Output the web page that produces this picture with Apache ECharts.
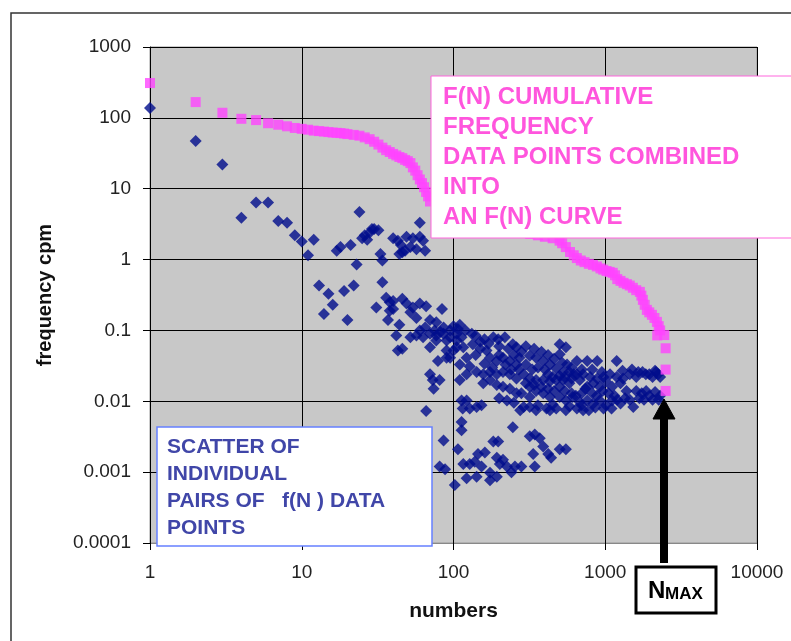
<!DOCTYPE html>
<html>
<head>
<meta charset="utf-8">
<script src="https://cdn.jsdelivr.net/npm/echarts@6/dist/echarts.min.js"></script>
<style>
  html, body { margin: 0; padding: 0; background: #fff; }
  #chart { width: 791px; height: 641px; }
</style>
</head>
<body>
<div id="chart"></div>
<script>
// tick labels
const xTicks = ['1', '10', '100', '1000', '10000']
const yTicks = ['0.0001', '0.001', '0.01', '0.1', '1', '10', '100', '1000']

// f(N) individual pairs [numbers, frequency cpm]
const scatterPts = [
  [1, 138], [2, 47], [3, 22], [4, 3.9], [5, 6.4], [6, 6.4], [7, 3.5], [8, 3.3], [9, 2.2], [10, 1.8],
  [11, 1.15], [12, 1.9], [13, 0.43], [15, 0.33], [16, 0.23], [14, 0.17], [17, 1.33], [18, 1.5], [19, 0.36], [20, 0.14],
  [21, 1.6], [22, 0.43], [23, 0.85], [24, 4.7], [25, 2.0], [26, 2.2], [27, 1.9], [28, 2.4], [29, 2.7], [32, 2.6],
  [33, 1.2], [34, 0.97], [34, 0.48], [31, 0.21], [36, 0.29], [38, 0.25], [40, 2.0], [43, 1.85], [44, 1.2], [40, 0.2],
  [37, 0.14], [42, 0.085], [43, 0.052], [60, 3.3], [30, 2.7], [49, 2.1], [54, 2.0], [60, 2.1], [63, 1.85], [46, 1.27],
  [52, 1.5], [57, 1.4], [65, 1.33], [45, 1.6], [48, 1.33],
  [40, 0.26], [46, 0.28], [49, 0.24], [54, 0.21], [60, 0.24], [66, 0.22], [84, 0.2], [38, 0.19], [52, 0.18], [57, 0.15],
  [70, 0.14], [77, 0.13], [86, 0.11], [100, 0.115], [107, 0.105], [44, 0.12], [52, 0.08], [57, 0.085], [63, 0.08], [70, 0.09],
  [77, 0.085], [86, 0.09], [95, 0.08], [105, 0.09], [113, 0.08], [132, 0.09], [46, 0.055], [70, 0.058], [90, 0.052], [105, 0.058],
  [79, 0.037], [90, 0.041], [70, 0.024], [73, 0.02], [81, 0.02], [74, 0.015], [66, 0.0073],
  [75, 0.1], [82, 0.095], [95, 0.1], [65, 0.11], [60, 0.1], [120, 0.1], [140, 0.085], [160, 0.075],
  [113, 0.0103], [115, 0.0079], [128, 0.0079], [142, 0.0083], [153, 0.0088], [113, 0.0051], [113, 0.0039], [246, 0.0043], [86, 0.0028], [107, 0.0021],
  [81, 0.0012], [88, 0.0011], [102, 0.00066], [116, 0.0013], [128, 0.0013], [138, 0.0014], [122, 0.00082], [142, 0.00086], [145, 0.0018], [161, 0.0019],
  [153, 0.0012], [174, 0.00098], [183, 0.0027], [197, 0.0027], [193, 0.0016], [202, 0.0013], [212, 0.0015], [174, 0.00077], [193, 0.00086], [225, 0.0012],
  [241, 0.001], [254, 0.0012], [280, 0.0012], [318, 0.0032], [343, 0.0034], [370, 0.003], [335, 0.0018], [390, 0.0023], [421, 0.0018], [343, 0.0012],
  [440, 0.0016], [501, 0.0021], [550, 0.0021],
  [110, 0.12], [183, 0.08], [197, 0.075], [218, 0.08], [246, 0.064], [260, 0.058], [501, 0.064], [550, 0.058], [501, 0.046], [1190, 0.037],
  [650, 0.037], [760, 0.037], [885, 0.037], [134, 0.064], [150, 0.055], [165, 0.052], [174, 0.041], [193, 0.037], [212, 0.041], [235, 0.037],
  [260, 0.033], [272, 0.041], [318, 0.044], [350, 0.041], [390, 0.037], [432, 0.033], [475, 0.029], [528, 0.026], [580, 0.026],
  [150, 0.07], [170, 0.065], [200, 0.06], [230, 0.055], [280, 0.05], [300, 0.06], [340, 0.055], [380, 0.05], [420, 0.045], [460, 0.04],
  [520, 0.035], [560, 0.033], [600, 0.03], [700, 0.028], [820, 0.028], [950, 0.026], [1300, 0.027], [1500, 0.028], [1650, 0.026], [1850, 0.024],
  [2050, 0.022], [2300, 0.022],
  [650, 0.024], [715, 0.024], [794, 0.022], [885, 0.021], [974, 0.022], [1075, 0.024], [1190, 0.022], [1310, 0.021], [1450, 0.024], [1600, 0.022],
  [1760, 0.026], [1950, 0.024], [2130, 0.027], [2230, 0.024], [2160, 0.026],
  [528, 0.02], [580, 0.018], [680, 0.02], [760, 0.016], [835, 0.018], [920, 0.016], [1010, 0.019], [1110, 0.016], [1260, 0.018], [1380, 0.014],
  [1600, 0.014], [1740, 0.013], [1950, 0.012], [2130, 0.0135], [2300, 0.012], [1860, 0.014],
  [140, 0.045], [160, 0.034], [180, 0.03], [200, 0.045], [220, 0.033], [240, 0.028], [250, 0.045], [270, 0.028], [300, 0.033], [330, 0.028],
  [360, 0.03], [400, 0.028], [420, 0.024], [450, 0.022], [500, 0.023], [540, 0.022], [600, 0.021], [620, 0.024], [300, 0.018], [340, 0.017],
  [380, 0.016], [420, 0.015], [460, 0.014], [500, 0.016], [540, 0.014], [600, 0.013], [640, 0.012], [700, 0.013], [740, 0.015], [820, 0.013],
  [880, 0.012], [960, 0.014], [1050, 0.013], [1150, 0.012], [1200, 0.0105], [1350, 0.011], [1450, 0.0105], [1680, 0.011], [1800, 0.0105], [2050, 0.0105],
  [2250, 0.0105], [700, 0.0088], [860, 0.0082], [250, 0.0095], [200, 0.011], [360, 0.0088], [450, 0.009], [580, 0.0085],
  [501, 0.0115], [550, 0.0103], [610, 0.0115], [680, 0.0098], [760, 0.0103], [835, 0.0093], [920, 0.0103], [1010, 0.0088], [1110, 0.0103], [1260, 0.0093],
  [1530, 0.0083], [780, 0.0075], [550, 0.0075], [410, 0.0079], [350, 0.0075], [318, 0.0083], [290, 0.0083], [275, 0.0075], [432, 0.0075], [475, 0.0079],
  [650, 0.0079], [715, 0.0075], [974, 0.0079], [1100, 0.0079],
  [122, 0.041], [128, 0.031], [142, 0.026], [157, 0.024], [174, 0.026], [193, 0.024], [212, 0.026], [235, 0.024], [260, 0.021], [290, 0.024],
  [318, 0.021], [350, 0.02], [390, 0.02], [432, 0.019], [475, 0.02], [157, 0.018], [174, 0.02], [193, 0.017], [212, 0.016], [235, 0.015],
  [260, 0.013], [225, 0.0103], [318, 0.016], [350, 0.014], [390, 0.013], [432, 0.0115], [318, 0.0115], [280, 0.013],
  [105, 0.072], [116, 0.058], [100, 0.052], [95, 0.041], [110, 0.033], [122, 0.024], [90, 0.072], [77, 0.072], [110, 0.02], [122, 0.0103]
]

// F(N) cumulative frequency [numbers, frequency cpm]
const cumulativePts = [
  [1, 310], [2, 167], [3, 118], [4, 97], [5, 93], [6, 84], [7, 80], [8, 76], [9, 72], [10, 70],
  [11, 68], [12, 66], [13, 65], [14, 64], [15, 63], [16, 62], [17, 61.5], [18, 61], [19, 60], [20, 59],
  [22, 57.5], [24, 56], [26, 53], [28, 50], [30, 46], [32, 42], [34, 38], [36, 35], [38, 33], [40, 31],
  [42, 29.5], [44, 28], [46, 27], [48, 25.5], [50, 24.5], [52, 23], [54, 20], [56, 18], [58, 15.5], [60, 13.5],
  [62, 12], [64, 10.5], [66, 9], [68, 7.8], [70, 6.6], [80, 5.5], [100, 4.6], [130, 4.0], [170, 3.5], [220, 3.1],
  [270, 2.8], [320, 2.3], [360, 2.2], [400, 2.1], [450, 2.0], [500, 1.85], [520, 1.7], [550, 1.5], [586, 1.28], [620, 1.15],
  [650, 1.05], [690, 0.97], [730, 0.92], [780, 0.87], [830, 0.84], [880, 0.8], [930, 0.75], [970, 0.72], [1020, 0.69], [1070, 0.67],
  [1120, 0.65], [1160, 0.6], [1200, 0.53], [1260, 0.5], [1320, 0.47], [1390, 0.45], [1450, 0.43], [1520, 0.4], [1600, 0.37], [1690, 0.35],
  [1730, 0.31], [1770, 0.27], [1820, 0.23], [1880, 0.195], [1950, 0.18], [2030, 0.166], [2110, 0.15], [2190, 0.132], [2250, 0.115], [2300, 0.1],
  [2200, 0.085], [2450, 0.086], [2500, 0.056], [2500, 0.028], [2500, 0.014]
]

const pinkNote = ['F(N) CUMULATIVE', 'FREQUENCY', 'DATA POINTS COMBINED', 'INTO', 'AN F(N) CURVE']
const blueNote = ['SCATTER OF', 'INDIVIDUAL', 'PAIRS OF   f(N ) DATA', 'POINTS']

const font = '"Liberation Sans", Arial, sans-serif'
const pink = '#ff44ff'
const navy = '#000c8c'

const chart = echarts.init(document.getElementById('chart'))

const graphic = [
  // outer chart frame
  { type: 'rect', shape: { x: 11, y: 13, width: 800, height: 700 }, style: { fill: 'none', stroke: '#333', lineWidth: 1.5 }, silent: true },
  // pink note box
  { type: 'rect', z: 100, shape: { x: 431, y: 76, width: 400, height: 162 }, style: { fill: '#fff', stroke: '#ff66dd', lineWidth: 1 } },
  // blue note box
  { type: 'rect', z: 100, shape: { x: 157, y: 427, width: 275, height: 119 }, style: { fill: '#fff', stroke: '#6680ff', lineWidth: 1.5 } },
  // NMAX arrow
  { type: 'rect', z: 100, shape: { x: 660, y: 416, width: 8, height: 147 }, style: { fill: '#000' } },
  { type: 'polygon', z: 100, shape: { points: [[664, 399], [653, 419], [675, 419]] }, style: { fill: '#000', stroke: '#000', lineWidth: 1 } },
  { type: 'rect', z: 100, shape: { x: 636, y: 567, width: 80, height: 46 }, style: { fill: '#fff', stroke: '#000', lineWidth: 3 } },
  { type: 'text', z: 101, style: { text: 'N', x: 648, y: 591, verticalAlign: 'middle', font: 'bold 24px ' + font, fill: '#000' } },
  { type: 'text', z: 101, style: { text: 'MAX', x: 665, y: 594, verticalAlign: 'middle', font: 'bold 17px ' + font, fill: '#000' } }
]
pinkNote.forEach((t, i) => {
  graphic.push({ type: 'text', z: 101, style: { text: t, x: 443, y: 97 + i * 30, verticalAlign: 'middle', font: 'bold 24px ' + font, fill: '#ff55dd' } })
})
blueNote.forEach((t, i) => {
  graphic.push({ type: 'text', z: 101, style: { text: t, x: 167, y: 447 + i * 27, verticalAlign: 'middle', font: 'bold 21px ' + font, fill: '#4046a8' } })
})

chart.setOption({
  animation: false,
  backgroundColor: '#fff',
  grid: {
    left: 150, top: 47, right: 34, bottom: 98,
    show: true, backgroundColor: '#c8c8c8', borderColor: '#999', borderWidth: 1
  },
  xAxis: {
    type: 'log', logBase: 10, min: 1, max: 10000, splitNumber: 4,
    name: 'numbers', nameLocation: 'middle', nameGap: 58,
    nameTextStyle: { fontFamily: font, fontSize: 21, fontWeight: 'bold', color: '#111' },
    axisLine: { show: true, lineStyle: { color: '#888' } },
    axisTick: { show: true, inside: false, length: 7, lineStyle: { color: '#000' } },
    minorTick: { show: false },
    axisLabel: { fontFamily: font, fontSize: 19, color: '#222', margin: 20, formatter: v => xTicks[Math.round(Math.log10(v))] },
    splitLine: { show: true, lineStyle: { color: '#000', width: 1 } }
  },
  yAxis: {
    type: 'log', logBase: 10, min: 0.0001, max: 1000, splitNumber: 7,
    name: 'frequency cpm', nameLocation: 'middle', nameGap: 95,
    nameTextStyle: { fontFamily: font, fontSize: 20, fontWeight: 'bold', color: '#111' },
    axisLine: { show: true, lineStyle: { color: '#000' } },
    axisTick: { show: true, inside: false, length: 7, lineStyle: { color: '#000' } },
    minorTick: { show: false },
    axisLabel: { fontFamily: font, fontSize: 19, color: '#222', margin: 19, formatter: v => yTicks[Math.round(Math.log10(v)) + 4] },
    splitLine: { show: true, lineStyle: { color: '#000', width: 1 } }
  },
  series: [
    {
      name: 'f(N)', type: 'scatter', data: scatterPts,
      symbol: 'diamond', symbolSize: 12, itemStyle: { color: navy }
    },
    {
      name: 'F(N)', type: 'scatter', data: cumulativePts,
      symbol: 'rect', symbolSize: 10, itemStyle: { color: pink }
    }
  ],
  graphic
})
</script>
</body>
</html>
